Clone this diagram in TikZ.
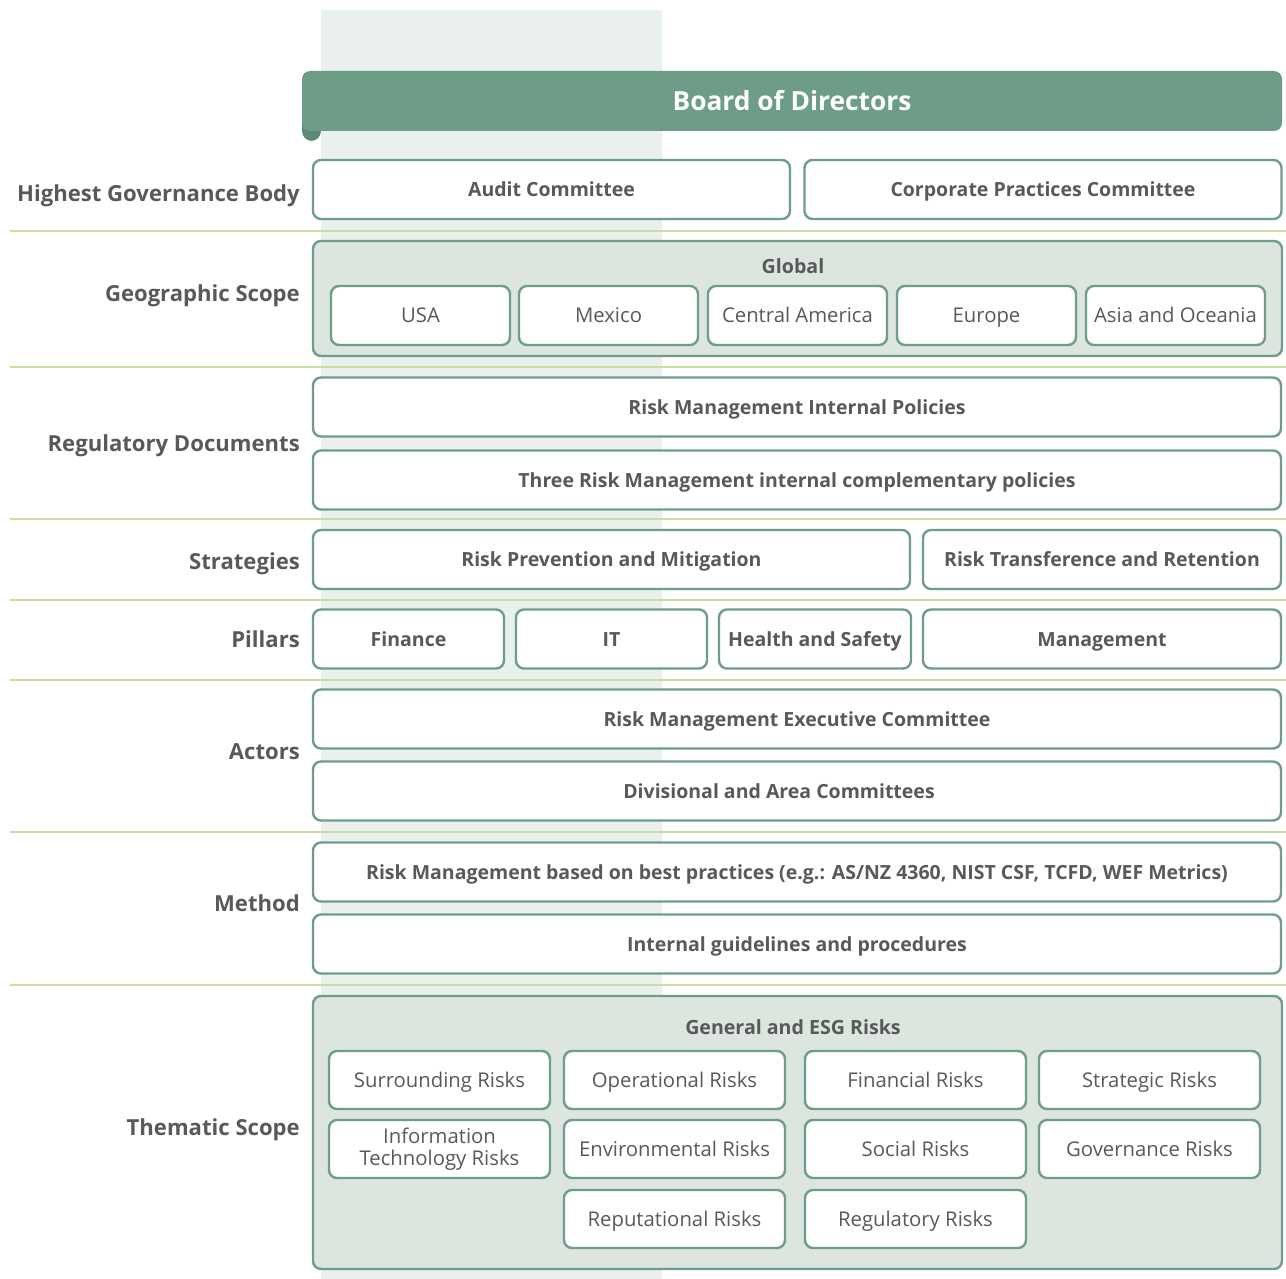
\documentclass[tikz,border=0pt]{standalone}
\usepackage{fontspec}
\setmainfont{Open Sans}
\usetikzlibrary{positioning}
\definecolor{BoardGreen}{HTML}{6E9D87}
\definecolor{BoardDark}{HTML}{5B8B74}
\definecolor{EdgeGreen}{HTML}{6E9E87}
\definecolor{PanelGreen}{HTML}{DCE6DF}
\definecolor{BandGray}{HTML}{EAF0EE}
\definecolor{RuleGreen}{HTML}{C8DFA4}
\definecolor{TextGray}{HTML}{58595B}

\begin{document}
\begin{tikzpicture}[x=1pt, y=-1pt,
  every node/.style={text=TextGray},
  shell/.style={draw=EdgeGreen, line width=2.4pt, fill=white, rounded corners=8pt, align=center,
                minimum height=59pt, inner sep=2pt},
  box/.style={shell, font=\fontsize{19.5}{22}\selectfont\bfseries, text height=14.5pt, text depth=0.5pt},
  item/.style={shell, font=\fontsize{20.3}{22}\selectfont, text height=15pt, text depth=0.5pt,
               minimum width=221pt, minimum height=58pt},
  geo/.style={item, minimum width=179pt, minimum height=59pt},
  panel/.style={draw=EdgeGreen, line width=2.4pt, fill=PanelGreen, rounded corners=8pt},
  ptitle/.style={font=\fontsize{19.6}{22}\selectfont\bfseries, text height=14pt, text depth=0pt},
  board/.style={fill=BoardGreen, rounded corners=8pt, text=white, font=\fontsize{26.3}{28}\selectfont\bfseries},
  rowlbl/.style={anchor=east, inner sep=0pt, font=\fontsize{22.1}{25}\selectfont\bfseries,
                 text height=15.8pt, text depth=0pt},
  sep/.style={draw=RuleGreen, line width=1.8pt}]

  \useasboundingbox (0,0) rectangle (1286,1279);

  % ---- pale column behind the boxes ----
  \fill[BandGray] (321,10) rectangle (662,1279);

  % ---- row rules ----
  \foreach \yy in {231,367,519,600,680,832,985}
    \draw[sep] (10,\yy) -- (1286,\yy);

  % ===== board banner =====
  \fill[BoardDark, rounded corners=10pt] (302,112) -- (302,141) -- (321,141) -- (321,112) -- cycle;
  \node[board, minimum width=980pt, minimum height=60pt] (bod) at (792,101) {Board of Directors};

  % ===== highest governance body =====
  \node[rowlbl] (lgov) at (300,194) {Highest Governance Body};
  \node[box, minimum width=477pt] (audit) at (551.5,189.5) {Audit Committee};
  \node[box, minimum width=477pt] (corp)  at (1043,189.5)  {Corporate Practices Committee};

  % ===== geographic scope =====
  \node[rowlbl] (lgeo) at (300,294) {Geographic Scope};
  \node[panel, minimum width=969pt, minimum height=115pt] (global) at (797.5,298.5) {};
  \node[ptitle] (globalt) at (793,266) {Global};
  \node[geo] (usa)    at (420.5,315.5)  {USA};
  \node[geo] (mex)    at (608.5,315.5)  {Mexico};
  \node[geo] (cam)    at (797.5,315.5)  {Central America};
  \node[geo] (eur)    at (986.5,315.5)  {Europe};
  \node[geo] (asia)   at (1175.5,315.5) {Asia and Oceania};

  % ===== regulatory documents =====
  \node[rowlbl] (lreg) at (300,444) {Regulatory Documents};
  \node[box, minimum width=968pt] (pol)  at (797,407) {Risk Management Internal Policies};
  \node[box, minimum width=968pt] (comp) at (797,480) {Three Risk Management internal complementary policies};

  % ===== strategies =====
  \node[rowlbl] (lstr) at (300,562) {Strategies};
  \node[box, minimum width=597pt] (prev)  at (611.5,559.5) {Risk Prevention and Mitigation};
  \node[box, minimum width=358pt] (trans) at (1102,559.5)  {Risk Transference and Retention};

  % ===== pillars =====
  \node[rowlbl] (lpil) at (300,640) {Pillars};
  \node[box, minimum width=191pt] (fin)  at (408.5,639) {Finance};
  \node[box, minimum width=191pt] (it)   at (611.5,639) {IT};
  \node[box, minimum width=192pt] (hs)   at (815,639)   {Health and Safety};
  \node[box, minimum width=358pt] (mgmt) at (1102,639)  {Management};

  % ===== actors =====
  \node[rowlbl] (lact) at (300,752) {Actors};
  \node[box, minimum width=968pt] (rmec) at (797,719) {Risk Management Executive Committee};
  \node[box, minimum width=968pt] (div)  at (797,791) {Divisional and Area Committees\hspace*{36pt}};

  % ===== method =====
  \node[rowlbl] (lmet) at (300,904) {Method};
  \node[box, minimum width=968pt] (best)  at (797,872) {Risk Management based on best practices (e.g.: AS/NZ 4360, NIST CSF, TCFD, WEF Metrics)};
  \node[box, minimum width=968pt] (guide) at (797,944) {Internal guidelines and procedures};

  % ===== thematic scope =====
  \node[rowlbl] (lthe) at (300,1128) {Thematic Scope};
  \node[panel, minimum width=969pt, minimum height=273pt] (esg) at (797.5,1132.5) {};
  \node[ptitle] (esgt) at (793,1027) {General and ESG Risks};
  \node[item] (surr) at (439.5,1080)  {Surrounding Risks};
  \node[item] (oper) at (674.5,1080)  {Operational Risks};
  \node[item] (finr) at (915.5,1080)  {Financial Risks};
  \node[item] (strr) at (1149.5,1080) {Strategic Risks};
  \node[shell, font=\fontsize{20.3}{22}\selectfont, minimum width=221pt, minimum height=58pt]
       (itr) at (439.5,1149) {Information\\ Technology Risks};
  \node[item] (env)  at (674.5,1149)  {Environmental Risks};
  \node[item] (soc)  at (915.5,1149)  {Social Risks};
  \node[item] (gov)  at (1149.5,1149) {Governance Risks};
  \node[item] (rep)  at (674.5,1219)  {Reputational Risks};
  \node[item] (regr) at (915.5,1219)  {Regulatory Risks};

\end{tikzpicture}
\end{document}
